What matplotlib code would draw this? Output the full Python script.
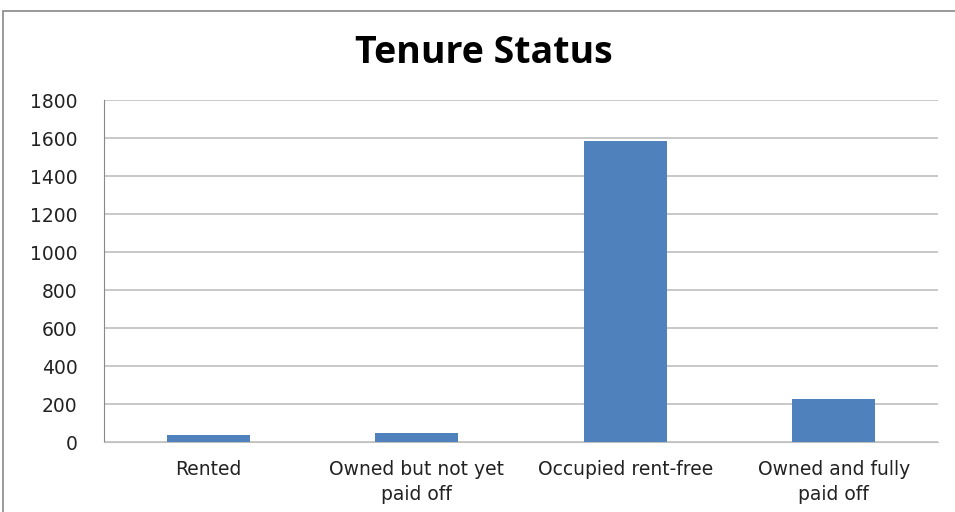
import matplotlib
matplotlib.use('Agg')
import matplotlib.pyplot as plt
from matplotlib.patches import Rectangle

categories = ['Rented', 'Owned but not yet\npaid off', 'Occupied rent-free', 'Owned and fully\npaid off']
counts = [37, 50, 1585, 225]
y_ticks = [0, 200, 400, 600, 800, 1000, 1200, 1400, 1600, 1800]

fig = plt.figure(figsize=(9.55, 5.12), dpi=100)
W, H = 955, 512
ax = fig.add_axes([104 / W, 1 - 442 / H, (938 - 104) / W, (442 - 100) / H])

# outer chart border (runs off the right and bottom edges)
fig.patches.append(Rectangle((3 / W, -0.05), 1.1, 1 - 11 / H + 0.05, transform=fig.transFigure,
                             fill=False, edgecolor='#888888', linewidth=1.2))

x = range(len(categories))
ax.bar(x, counts, width=0.4, color='#4f81bd', zorder=3)

ax.set_ylim(0, 1800)
ax.set_xlim(-0.5, len(categories) - 0.5)
ax.set_yticks(y_ticks)
ax.set_yticklabels([str(t) for t in y_ticks], fontsize=13.5, family='DejaVu Sans', color='#222222')
ax.set_xticks(list(x))
ax.set_xticklabels(categories, fontsize=13.5, family='DejaVu Sans', color='#222222', linespacing=1.4)
ax.tick_params(axis='x', length=0, pad=13)
ax.tick_params(axis='y', length=0, pad=19)
ax.grid(True, axis='y', color='#bfbfbf', linewidth=1.2, zorder=0)

for side in ['top', 'right']:
    ax.spines[side].set_visible(False)
ax.spines['left'].set_color('#888888')
ax.spines['bottom'].set_color('#bfbfbf')

fig.text(484 / W, 1 - 53 / H, 'Tenure Status', ha='center', va='center',
         fontsize=27, weight='bold', family='Open Sans')

fig.savefig('out.png', dpi=100)
